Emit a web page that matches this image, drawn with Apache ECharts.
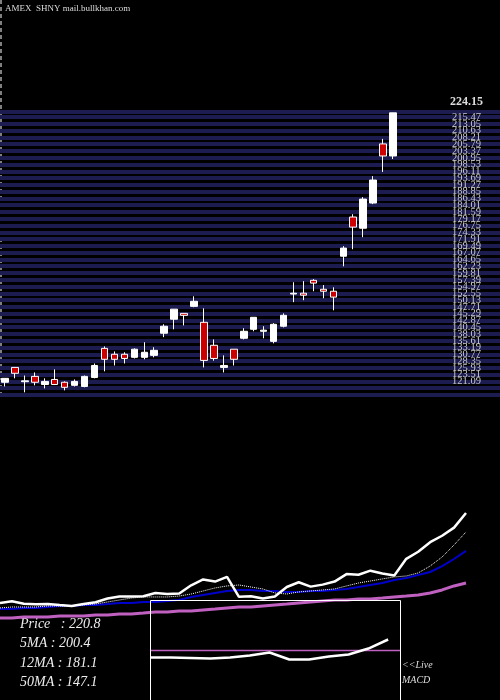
<!DOCTYPE html>
<html><head><meta charset="utf-8">
<script src="https://cdn.jsdelivr.net/npm/echarts@6/dist/echarts.min.js"></script>
<style>html,body{margin:0;background:#000}#c{width:500px;height:700px}</style>
</head><body><div id="c"></div>
<script>
// [open, close, low, high]
const candles = [
[120.8,122.2,119.3,122.2],[126.1,124.0,122.2,126.1],[121.0,121.3,117.2,123.2],[122.9,120.8,119.7,124.3],
[120.0,121.1,118.6,122.2],[121.8,120.0,119.8,125.4],[120.8,119.0,117.9,121.1],[119.7,121.1,119.3,121.8],
[119.3,122.9,119.0,123.2],[122.5,126.8,122.2,127.5],[132.9,129.0,124.7,133.6],[130.8,129.0,126.8,131.8],
[130.8,129.3,127.5,131.5],[129.7,132.6,129.3,132.9],[129.7,131.5,129.0,135.1],[130.4,132.2,129.7,133.3],
[138.3,140.8,136.9,141.5],[143.3,146.9,139.7,146.9],[145.4,144.7,141.1,145.4],[147.9,149.7,147.6,151.5],
[142.2,128.6,126.1,147.2],[134.0,129.3,128.5,136.1],[126.1,126.8,124.3,130.4],[132.6,129.0,126.8,132.6],
[136.5,139.0,136.1,140.1],[139.7,144.0,139.0,144.0],[139.0,139.4,136.5,140.8],[135.4,141.5,134.7,141.9],
[140.8,144.7,140.4,145.4],[152.3,152.6,149.4,156.5],[152.6,151.9,150.1,156.9],[157.2,156.2,153.3,157.6],
[154.0,153.3,150.8,155.5],[153.3,151.2,146.5,154.7],[165.8,168.7,162.2,169.4],[179.8,176.2,168.3,180.8],
[175.8,186.2,172.6,186.9],[184.8,193.0,184.4,194.4],[205.9,201.6,195.9,207.7],[201.6,217.0,200.5,217.0]];
const days = candles.map((_, i) => String(i + 1));
const closes = candles.map(c => c[1]);
const ma5 = [116.9,117.9,117.9,117.9,119,119,119,120.1,121.1,123.2,125.3,127.4,128.5,128.5,128.5,129.5,131.6,134.8,138,140.1,141.1,139,136.9,132.7,131.6,133.8,134.8,135.9,136.9,140.1,143.2,145.3,147.5,149.6,150.6,153.8,161.1,170.6,183.3,197];
const ma12 = [115.8,115.8,116.9,116.9,117.9,119,119,120.1,120.1,121.1,122.2,122.2,123.2,123.2,124.3,125.3,128.5,130.6,132.7,134.8,135.9,135.9,134.8,134.8,133.8,133.8,134.8,134.8,135.9,136.9,139,141.1,143.2,146.4,148.5,151.7,154.8,161.1,168.5,177];
const ma50 = [106.4,106.4,107.4,107.4,107.4,108.5,108.5,108.5,109.5,109.5,110.6,110.6,111.6,112.7,112.7,113.7,113.7,114.8,115.8,116.9,117.9,117.9,119,120.1,121.1,122.2,123.2,124.3,125.3,125.3,126.4,126.4,127.4,128.5,129.5,130.6,132.7,135.9,140.1,143.2];
const macd = [-0.71,-0.71,-0.76,-0.81,-0.71,-0.51,-0.2,-0.91,-0.91,-0.61,-0.4,0.2,1.11];
const signal = [0,0,0,0,0,0,0,0,0,0,0,0,0,0];
const infoLabels = ['Price   : 220.8','5MA : 200.4','12MA : 181.1','50MA : 147.1'];
const topLabel = '224.15';

const serif = 'Liberation Serif';
const chart = echarts.init(document.getElementById('c'));
chart.setOption({
  backgroundColor:'#000',
  animation:false,
  grid:[
    {left:-2, width:400, top:112, bottom:305},
    {left:0, right:34, top:500, bottom:80},
    {left:151, width:249, top:601, bottom:0},
    {left:0, right:0, top:112, bottom:305}
  ],
  xAxis:[
    {gridIndex:0,type:'category',data:days,show:false},
    {gridIndex:1,type:'category',data:days,boundaryGap:false,show:false},
    {gridIndex:2,type:'value',min:0,max:12.6,show:false},
    {gridIndex:3,type:'value',min:0,max:1,show:false}
  ],
  yAxis:[
    {gridIndex:0,type:'value',position:'right',min:116.25,max:217.3,interval:2.42,
     axisLine:{show:false},axisTick:{show:false},splitLine:{show:false},
     axisLabel:{margin:54,color:'#c8c8c8',fontFamily:serif,fontSize:10.5,formatter:v=>v<120?'':v.toFixed(2)}},
    {gridIndex:1,type:'value',min:104.2,max:230.7,show:false},
    {gridIndex:2,type:'value',min:-5,max:5,show:false},
    {gridIndex:3,type:'value',min:116.25,max:217.3,interval:2.42,
     axisLine:{show:false},axisTick:{show:false},axisLabel:{show:false},
     splitLine:{lineStyle:{color:'#1c1c50',width:4}}}
  ],
  series:[
    {type:'candlestick',xAxisIndex:0,yAxisIndex:0,data:candles,barWidth:7,z:5,
     itemStyle:{color:'#fff',color0:'#cc0000',borderColor:'#fff',borderColor0:'#fff',borderWidth:1}},
    {type:'line',xAxisIndex:1,yAxisIndex:1,data:ma50,symbol:'none',lineStyle:{color:'#c060c0',width:3}},
    {type:'line',xAxisIndex:1,yAxisIndex:1,data:ma12,symbol:'none',lineStyle:{color:'#0000cc',width:2}},
    {type:'line',xAxisIndex:1,yAxisIndex:1,data:ma5,symbol:'none',lineStyle:{color:'#fff',width:1,type:'dotted'}},
    {type:'line',xAxisIndex:1,yAxisIndex:1,data:closes,symbol:'none',lineStyle:{color:'#fff',width:2.5}},
    {type:'line',xAxisIndex:2,yAxisIndex:2,data:signal.map((v,i)=>[i*12.6/13,v]),symbol:'none',lineStyle:{color:'#c060c0',width:1.5}},
    {type:'line',xAxisIndex:2,yAxisIndex:2,data:macd.map((v,i)=>[i,v]),symbol:'none',lineStyle:{color:'#fff',width:2.5}}
  ],
  graphic:[
    {type:'line',shape:{x1:1,y1:0,x2:1,y2:393},style:{stroke:'#fff',lineWidth:1,lineDash:[4,3]}},
    {type:'text',left:5,top:4,style:{text:'AMEX  SHNY mail.bullkhan.com',fill:'#ddd',font:'9px '+serif}},
    {type:'text',left:450,top:96,style:{text:topLabel,fill:'#ddd',font:'bold 12px '+serif}},
    {type:'rect',shape:{x:150.5,y:600.5,width:250,height:110},style:{fill:'none',stroke:'#fff',lineWidth:1},z:10},
    ...infoLabels.map((t,i)=>({type:'text',left:20,top:617+i*19.5,style:{text:t,fill:'#eee',font:'italic 14px '+serif}})),
    {type:'text',left:402,top:660,style:{text:'<<Live',fill:'#ddd',font:'italic 10px '+serif}},
    {type:'text',left:402,top:675,style:{text:'MACD',fill:'#ddd',font:'italic 10px '+serif}}
  ]
});
</script></body></html>
